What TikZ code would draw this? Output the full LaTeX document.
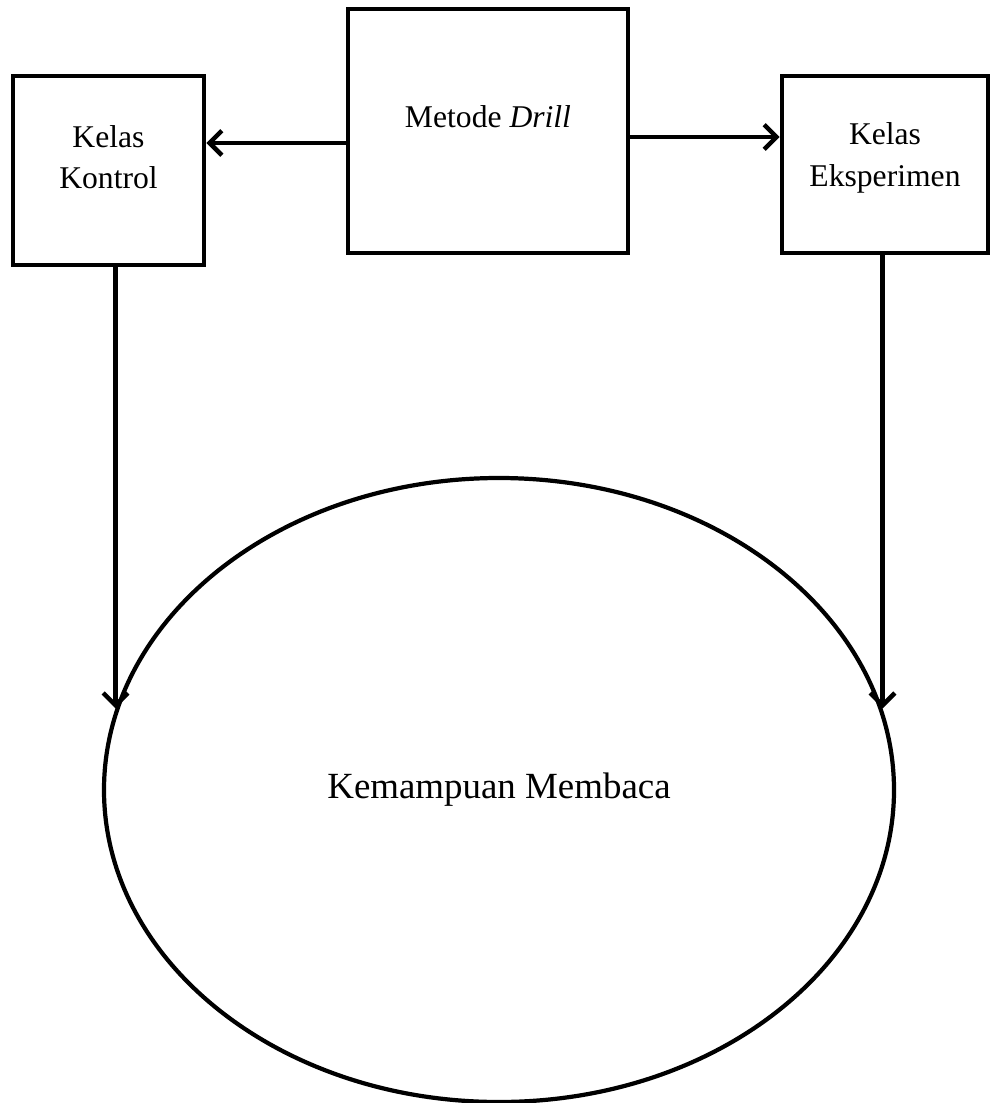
\documentclass[tikz,border=0pt]{standalone}
\usepackage{fontspec}
\setmainfont{Liberation Serif}
\usetikzlibrary{arrows.meta, shapes.geometric, positioning}

\begin{document}
\begin{tikzpicture}[
    box/.style={rectangle, draw=black, line width=2.6pt},
    textlabel/.style={align=center, font=\fontsize{18}{23.5}\selectfont},
    bigoval/.style={ellipse, draw=black, line width=2.4pt, minimum width=15.8cm, minimum height=12.48cm, font=\fontsize{21}{25}\selectfont},
    arrow/.style={->, line width=2.6pt, >={Straight Barb[length=7pt,width=14pt]}}
]
\useasboundingbox (0,0) rectangle (19.8,-22.06);

% === Boxes (top row) ===
\node[box, minimum width=3.82cm, minimum height=3.78cm] (kontrol) at (2.17,-3.41) {};
\node[box, minimum width=5.6cm, minimum height=4.88cm] (metode) at (9.76,-2.62) {};
\node[box, minimum width=4.12cm, minimum height=3.54cm] (eksperimen) at (17.7,-3.29) {};

% Box texts
\node[textlabel] (kontrolText) at ([yshift=0.27cm]kontrol.center) {Kelas\\Kontrol};
\node[textlabel] (metodeText) at ([yshift=0.28cm]metode.center) {Metode \textit{Drill}};
\node[textlabel] (eksperimenText) at ([yshift=0.13cm]eksperimen.center) {Kelas\\Eksperimen};

% === Outcome (ellipse) ===
\node[bigoval] (kemampuan) at (9.98,-15.8) {Kemampuan Membaca};

% === Arrows ===
\coordinate (toKontrol) at ([yshift=-0.24cm]metode.west);
\coordinate (toEksperimen) at ([yshift=-0.12cm]metode.east);
\draw[arrow] (toKontrol) -- (toKontrol -| kontrol.east);
\draw[arrow] (toEksperimen) -- (toEksperimen -| eksperimen.west);

\draw[arrow] (kontrol.south -| kemampuan.168) -- (kemampuan.168);
\draw[arrow] (eksperimen.south -| kemampuan.12) -- (kemampuan.12);

\end{tikzpicture}
\end{document}
